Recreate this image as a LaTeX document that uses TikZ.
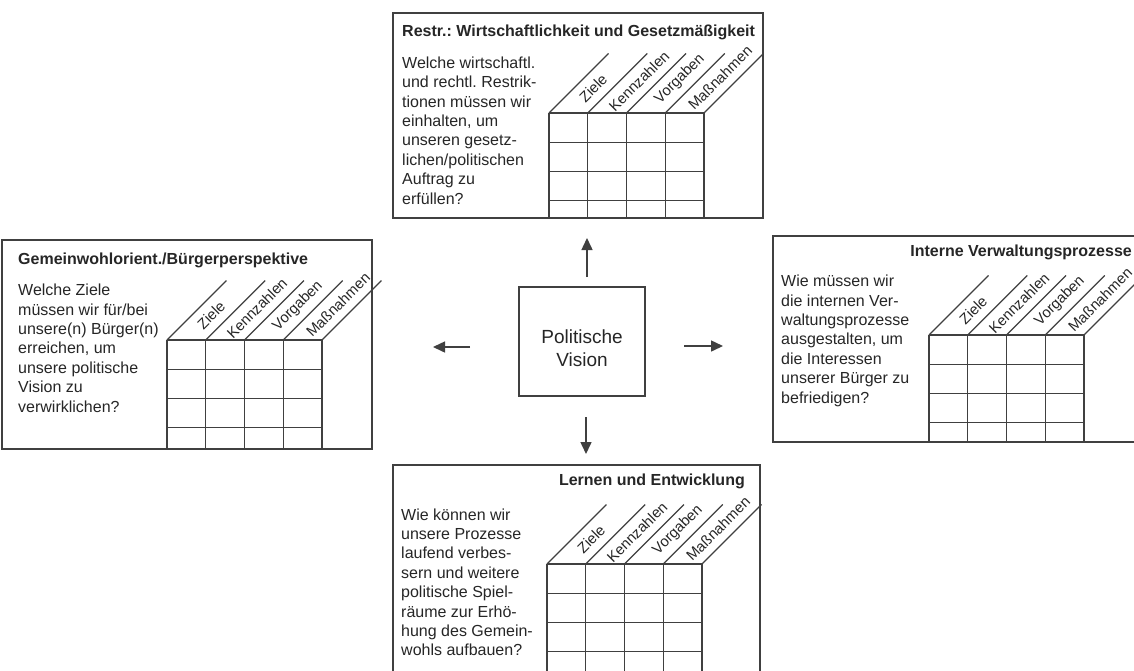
\documentclass[tikz,border=0pt]{standalone}
\usepackage{fontspec}
\setmainfont{Liberation Sans}
\usetikzlibrary{arrows.meta}
\definecolor{ink}{HTML}{262626}
\definecolor{linecol}{HTML}{404040}
\newcommand\bsctab[4]{% #1 prefix, #2 x0, #3 ytop, #4 ybottom
  \foreach \i in {0,...,4} {
    \draw[gridline] ({#2+\i*38.75},#3) -- ({#2+\i*38.75},#4);
    \draw[gridline] ({#2+\i*38.75},#3) -- ++(59.5,-59.5);
  }
  \foreach \j in {0,...,3} {
    \draw[gridline] (#2,{#3+\j*29.3}) -- ({#2+155},{#3+\j*29.3});
  }
  \foreach \t/\d [count=\k from 0] in {Ziele/35,Kennzahlen/45,Vorgaben/48,Maßnahmen/50} {
    \node[collabel] (#1-\k) at ({#2+\k*38.75+19.375+\d*0.7071},{#3-\d*0.7071}) {\t};
  }
}
\begin{document}
\frenchspacing
\begin{tikzpicture}[x=1pt,y=-1pt,
  panel/.style={draw=linecol, line width=1.1pt, rectangle, inner sep=0pt},
  gridline/.style={draw=linecol, line width=1.1pt},
  collabel/.style={text=ink, font=\fontsize{14.8}{17}\selectfont, rotate=45, inner sep=0pt},
  titletext/.style={text=ink, font=\fontsize{16}{19}\selectfont\bfseries, inner sep=0pt},
  bodytext/.style={text=ink, font=\fontsize{16}{19.4}\selectfont, inner sep=0pt, anchor=base west},
  visiontext/.style={text=ink, font=\fontsize{19}{23.4}\selectfont, inner sep=0pt, anchor=base},
  arr/.style={draw=linecol, line width=1.5pt, -{Triangle[length=12pt,width=11pt]}}
]
\useasboundingbox (0,0) rectangle (1134,670);
\clip (0,0) rectangle (1134,670);
\fill[white] (0,0) rectangle (1134,670);

% panels
\node[panel, minimum width=370pt, minimum height=205pt] (top) at (578,115.5) {};
\node[panel, minimum width=370pt, minimum height=209pt] (left) at (187,344.5) {};
\node[panel, minimum width=372pt, minimum height=206pt] (right) at (959,339) {};
\node[panel, minimum width=367pt, minimum height=215pt] (bottom) at (576.5,572.5) {};
\node[panel, minimum width=126pt, minimum height=109pt] (vision) at (582,341.5) {};

% titles
\node[titletext, anchor=base west] (toptitle) at (402,36) {Restr.: Wirtschaftlichkeit und Gesetzmäßigkeit};
\node[titletext, anchor=base west] (lefttitle) at (18,264) {Gemeinwohlorient./Bürgerperspektive};
\node[titletext, anchor=base east] (righttitle) at (1132,256) {Interne Verwaltungsprozesse};
\node[titletext, anchor=base east] (bottomtitle) at (745,485) {Lernen und Entwicklung};

% body texts
\node[bodytext] (topbody) at (402,68.3) {\begin{tabular}[t]{@{}l@{}}Welche wirtschaftl.\\und rechtl. Restrik-\\tionen müssen wir\\einhalten, um\\unseren gesetz-\\lichen/politischen\\Auftrag zu\\erfüllen?\end{tabular}};
\node[bodytext] (leftbody) at (18,295.7) {\begin{tabular}[t]{@{}l@{}}Welche Ziele\\müssen wir für/bei\\unsere(n) Bürger(n)\\erreichen, um\\unsere politische\\Vision zu\\verwirklichen?\end{tabular}};
\node[bodytext] (rightbody) at (781,286.7) {\begin{tabular}[t]{@{}l@{}}Wie müssen wir\\die internen Ver-\\waltungsprozesse\\ausgestalten, um\\die Interessen\\unserer Bürger zu\\befriedigen?\end{tabular}};
\node[bodytext] (bottombody) at (401,520) {\begin{tabular}[t]{@{}l@{}}Wie können wir\\unsere Prozesse\\laufend verbes-\\sern und weitere\\politische Spiel-\\räume zur Erhö-\\hung des Gemein-\\wohls aufbauen?\end{tabular}};

% center text
\node[visiontext] (visiontxt) at (582,343.3) {\begin{tabular}[t]{@{}c@{}}Politische\\Vision\end{tabular}};

% tables
\bsctab{tt}{549}{113}{218}
\bsctab{lt}{167}{340}{449}
\bsctab{rt}{929}{335}{442}
\bsctab{bt}{547}{564}{680}

% arrows
\coordinate (upS) at (587,277);
\coordinate (upE) at (587,238);
\coordinate (lfS) at (470,347);
\coordinate (lfE) at (433,347);
\coordinate (rtS) at (684,346);
\coordinate (rtE) at (723,346);
\coordinate (dnS) at (586,417);
\coordinate (dnE) at (586,454);
\draw[arr] (upS) -- (upE);
\draw[arr] (lfS) -- (lfE);
\draw[arr] (rtS) -- (rtE);
\draw[arr] (dnS) -- (dnE);
\end{tikzpicture}
\end{document}
